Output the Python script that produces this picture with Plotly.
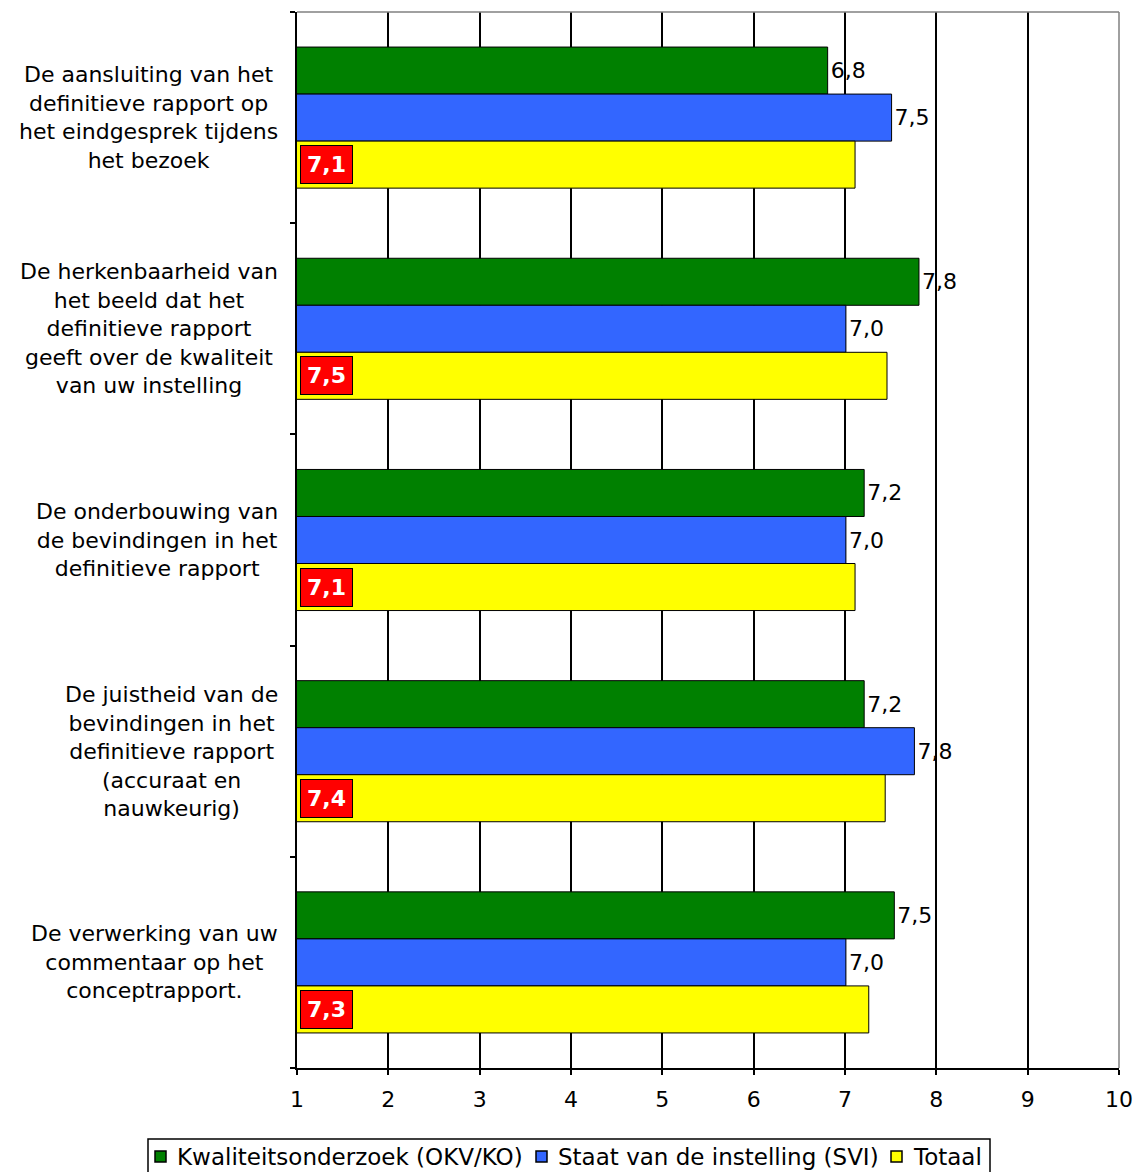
import plotly.graph_objects as go

# Survey statements (y categories), top to bottom
categories = [
    "De aansluiting van het<br>definitieve rapport op<br>het eindgesprek tijdens<br>het bezoek",
    "De herkenbaarheid van<br>het beeld dat het<br>definitieve rapport<br>geeft over de kwaliteit<br>van uw instelling",
    "De onderbouwing van<br>de bevindingen in het<br>definitieve rapport",
    "De juistheid van de<br>bevindingen in het<br>definitieve rapport<br>(accuraat en<br>nauwkeurig)",
    "De verwerking van uw<br>commentaar op het<br>conceptrapport.",
]

series_names = ["Kwaliteitsonderzoek (OKV/KO)", "Staat van de instelling (SVI)", "Totaal"]
series_colors = ["#008000", "#3366FF", "#FFFF00"]
kwaliteitsonderzoek = [6.81, 7.81, 7.21, 7.21, 7.54]
staat_instelling = [7.51, 7.01, 7.01, 7.76, 7.01]
totaal = [7.11, 7.46, 7.11, 7.44, 7.26]

x_ticks = [1, 2, 3, 4, 5, 6, 7, 8, 9, 10]

FONT = "DejaVu Sans, Verdana, sans-serif"
FS = 22
cat_ids = list(range(len(categories)))
BARGAP = 0.332

# Figure geometry (pixels) used to place the boxed legend under the plot
W, H = 1137, 1172
ML, MR, MT, MB = 297, 18, 12, 104
PW, PH = W - ML - MR, H - MT - MB


def px_x(px):
    return (px - ML) / PW


def px_y(py):
    return (H - MB - py) / PH


fig = go.Figure()

for name, color, values, labelled in [
    (series_names[0], series_colors[0], kwaliteitsonderzoek, True),
    (series_names[1], series_colors[1], staat_instelling, True),
    (series_names[2], series_colors[2], totaal, False),
]:
    kw = {}
    if labelled:
        kw = dict(texttemplate="%{x:.1f}", textposition="outside",
                  textfont=dict(family=FONT, size=FS, color="#000000"))
    fig.add_trace(go.Bar(
        y=cat_ids, x=values, name=name, orientation="h",
        marker=dict(color=color, line=dict(color="#000000", width=1)),
        cliponaxis=False, showlegend=False, **kw,
    ))

annotations = []
shapes = []

# Statement labels to the left of the plot
for i, label in enumerate(categories):
    annotations.append(dict(
        text=label, xref="paper", x=0, xanchor="right", xshift=-17,
        yref="y", y=i, yanchor="middle", align="center", showarrow=False,
        font=dict(family=FONT, size=FS, color="#000000"),
    ))

# Highlighted totals at the base of the yellow bars
bar_w = (1 - BARGAP) / 3
for i, v in enumerate(totaal):
    annotations.append(dict(
        text="<b>" + f"{v:.1f}".replace(".", ",") + "</b>",
        xref="x", x=x_ticks[0], xanchor="left", xshift=3,
        yref="y", y=i + bar_w, yanchor="middle", showarrow=False,
        font=dict(family=FONT, size=FS, color="#FFFFFF"),
        bgcolor="#FF0000", bordercolor="#000000", borderwidth=1, borderpad=6,
    ))

# Plot frame: grey top and right edges
shapes.append(dict(type="line", xref="paper", yref="paper", x0=0, x1=1, y0=1, y1=1,
                   line=dict(color="#808080", width=1.5), layer="above"))
shapes.append(dict(type="line", xref="paper", yref="paper", x0=1, x1=1, y0=0, y1=1,
                   line=dict(color="#808080", width=1.5), layer="above"))

# Boxed legend
shapes.append(dict(type="rect", xref="paper", yref="paper",
                   x0=px_x(148), x1=px_x(990), y0=px_y(1185), y1=px_y(1139),
                   line=dict(color="#000000", width=1.5), fillcolor="#FFFFFF"))
legend_swatch_x = [155, 536, 891]
legend_text_x = [175, 556, 911]
for name, color, sx, tx in zip(series_names, series_colors, legend_swatch_x, legend_text_x):
    shapes.append(dict(type="rect", xref="paper", yref="paper",
                       x0=px_x(sx), x1=px_x(sx + 11), y0=px_y(1162), y1=px_y(1151),
                       line=dict(color="#000000", width=1.5), fillcolor=color))
    annotations.append(dict(
        text=name, xref="paper", x=px_x(tx), xanchor="left",
        yref="paper", y=px_y(1157), yanchor="middle", showarrow=False,
        font=dict(family=FONT, size=23, color="#000000"),
    ))

fig.update_layout(
    width=W, height=H,
    margin=dict(l=ML, r=MR, t=MT, b=MB, autoexpand=False),
    paper_bgcolor="#FFFFFF", plot_bgcolor="#FFFFFF",
    barmode="group", bargap=BARGAP, bargroupgap=0,
    separators=", ",
    font=dict(family=FONT, size=FS, color="#000000"),
    showlegend=False,
    annotations=annotations,
    shapes=shapes,
)

fig.update_xaxes(
    range=[x_ticks[0], x_ticks[-1]], tickvals=x_ticks, ticktext=[str(t) for t in x_ticks],
    showgrid=True, gridcolor="#000000", gridwidth=1.5,
    showline=True, linecolor="#000000", linewidth=1.5,
    ticks="outside", ticklen=5, tickcolor="#000000", tickwidth=1.5,
    ticklabelstandoff=6,
    tickfont=dict(family=FONT, size=FS, color="#000000"),
    zeroline=False, fixedrange=True,
)
fig.update_yaxes(
    type="linear", range=[len(categories) - 0.5, -0.5],
    tickvals=[i - 0.5 for i in range(len(categories) + 1)],
    showticklabels=False, showgrid=False,
    showline=True, linecolor="#000000", linewidth=1.5,
    ticks="outside", ticklen=5, tickcolor="#000000", tickwidth=1.5,
    zeroline=False, fixedrange=True,
)

fig.write_html("out.html")
